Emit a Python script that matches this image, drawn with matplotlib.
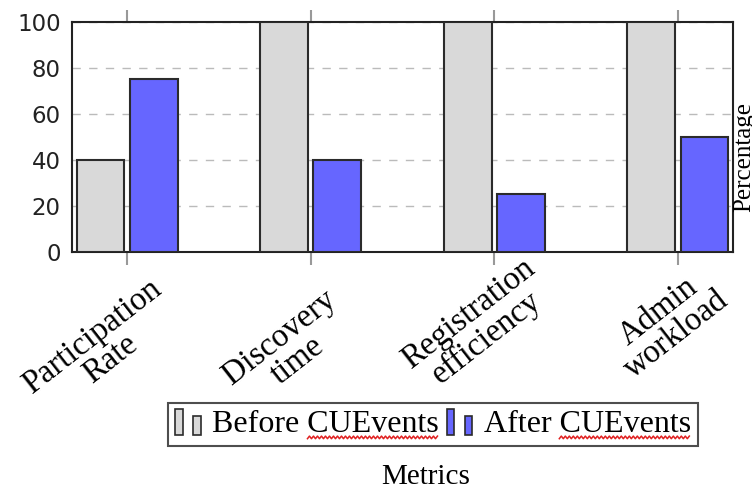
import numpy as np
import matplotlib
matplotlib.use("Agg")
import matplotlib.pyplot as plt
from matplotlib.patches import Rectangle, Patch
from matplotlib.lines import Line2D

metrics = ["Participation\nRate", "Discovery\ntime", "Registration\nefficiency", "Admin\nworkload"]
before = [40, 100, 100, 100]
after = [75, 40, 25, 50]
series_names = ["Before CUEvents", "After CUEvents"]

# label centre offsets from tick (pixels)
label_offsets = [(-26, -96), (-22, -97), (-17, -74), (-11, -71)]

GRAY = "#d9d9d9"
BLUE = "#6666ff"
EDGE = "#2b2b2b"
SERIF = "Liberation Serif"


class DoubleBox:
    # two little boxes per legend entry, like the original
    def legend_artist(self, legend, orig_handle, fontsize, handlebox):
        x0, y0 = -handlebox.xdescent, -handlebox.ydescent
        w, h = handlebox.width, handlebox.height
        fc = orig_handle.get_facecolor()
        tr = handlebox.get_transform()
        big = Rectangle((x0, y0 - 0.1 * h), w * 0.28, h * 1.15, fc=fc, ec=EDGE, lw=1.2, transform=tr)
        small = Rectangle((x0 + w * 0.7, y0 - 0.1 * h), w * 0.28, h * 0.85, fc=fc, ec=EDGE, lw=1.2, transform=tr)
        handlebox.add_artist(big)
        handlebox.add_artist(small)
        return big


fig = plt.figure(figsize=(7.52, 4.91), dpi=100)
ax = fig.add_axes([0.0957, 0.4868, 0.879, 0.4684])

x = np.arange(len(metrics))
width = 0.26
ax.bar(x - 0.145, before, width, color=GRAY, edgecolor=EDGE, linewidth=1.5, zorder=3)
ax.bar(x + 0.145, after, width, color=BLUE, edgecolor=EDGE, linewidth=1.5, zorder=3)

ax.set_xlim(-0.30, 3.30)
ax.set_ylim(0, 100)
ax.set_yticks([0, 20, 40, 60, 80, 100])
ax.yaxis.grid(True, color="#bbbbbb", linestyle=(0, (6, 6)), linewidth=1.0, zorder=0)
ax.tick_params(axis="y", length=0, pad=8, labelsize=16.5, labelcolor="#222222")
ax.set_xticks(x)
ax.set_xticklabels([])
ax.tick_params(axis="x", which="both", direction="out", length=9, width=1.5, color="#999999",
               top=True, bottom=True)
for s in ax.spines.values():
    s.set_linewidth(1.5)
    s.set_color("#222222")

for i, lab in enumerate(metrics):
    dx, dy = label_offsets[i]
    ax.annotate(lab, xy=(i, 0), xycoords=ax.get_xaxis_transform(),
                xytext=(dx * 0.72, dy * 0.72), textcoords="offset points",
                ha="center", va="center", rotation=38, rotation_mode="anchor",
                multialignment="center", fontsize=23.5, family=SERIF, linespacing=0.95)

handles = [Patch(facecolor=GRAY), Patch(facecolor=BLUE)]
leg = fig.legend(handles, series_names, loc="center", bbox_to_anchor=(0.576, 0.135),
                 ncol=2, handler_map={Patch: DoubleBox()}, prop={"family": SERIF, "size": 23},
                 handlelength=0.8, handletextpad=0.35, columnspacing=0.25,
                 borderpad=0.22, borderaxespad=0, fancybox=False, frameon=True)
leg.get_frame().set_edgecolor("#222222")
leg.get_frame().set_linewidth(1.5)

fig.text(0.566, 0.028, "Metrics", ha="center", va="center", fontsize=21, family=SERIF)
fig.text(0.975, 0.68, "Percentage", ha="left", va="center", rotation=90, fontsize=18, family=SERIF)

# red spell-check squiggle under "CUEvents" as seen in the reference
fig.canvas.draw()
renderer = fig.canvas.get_renderer()
for t in leg.get_texts():
    full = t.get_window_extent(renderer)
    prefix = t.get_text().split(" ")[0] + " "
    tmp = fig.text(0, 0, prefix, family=SERIF, size=23)
    pw = tmp.get_window_extent(renderer).width
    tmp.remove()
    xs = np.arange(full.x0 + pw, full.x1, 2.0)
    ys = full.y0 + 2 + np.where(np.arange(len(xs)) % 2 == 0, -1.3, 1.3)
    fig.add_artist(Line2D(xs, ys, transform=None, color="#e02020", linewidth=1.1, zorder=10))

fig.savefig("out.png", dpi=100)
